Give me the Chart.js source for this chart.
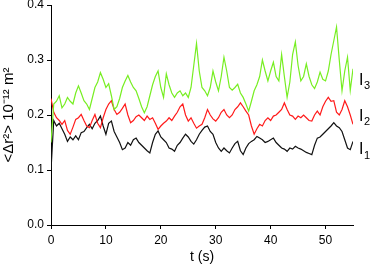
<!DOCTYPE html>
<html>
<head>
<meta charset="utf-8">
<script src="https://cdn.jsdelivr.net/npm/chart.js@4"></script>
<style>
  html, body { margin: 0; padding: 0; background: #fff; }
  #wrap { width: 371px; height: 270px; }
</style>
</head>
<body>
<div id="wrap"><canvas id="c"></canvas></div>
<script>
const times = [
  0, 0.5, 1, 1.5, 2, 2.5, 3, 3.5, 4, 4.5, 5, 5.5, 6, 6.5, 7, 7.5, 8, 8.5, 9, 9.5,
  10, 10.5, 11, 11.5, 12, 12.5, 13, 13.5, 14, 14.5, 15, 15.5, 16, 16.5, 17, 17.5, 18, 18.5, 19, 19.5,
  20, 20.5, 21, 21.5, 22, 22.5, 23, 23.5, 24, 24.5, 25, 25.5, 26, 26.5, 27, 27.5, 28, 28.5, 29, 29.5,
  30, 30.5, 31, 31.5, 32, 32.5, 33, 33.5, 34, 34.5, 35, 35.5, 36, 36.5, 37, 37.5, 38, 38.5, 39, 39.5,
  40, 40.5, 41, 41.5, 42, 42.5, 43, 43.5, 44, 44.5, 45, 45.5, 46, 46.5, 47, 47.5, 48, 48.5, 49, 49.5,
  50, 50.5, 51, 51.5, 52, 52.5, 53, 53.5, 54, 54.5, 55
];

// I1 (black)
const i1 = [
  0.10, 0.19, 0.18, 0.185, 0.175, 0.165, 0.152, 0.16, 0.155, 0.162, 0.155, 0.168, 0.17, 0.177, 0.183, 0.175, 0.185, 0.19, 0.198, 0.18,
  0.165, 0.185, 0.189, 0.17, 0.16, 0.15, 0.137, 0.14, 0.15, 0.145, 0.155, 0.158, 0.15, 0.145, 0.14, 0.135, 0.131, 0.15, 0.165, 0.171,
  0.16, 0.155, 0.15, 0.14, 0.138, 0.134, 0.145, 0.15, 0.158, 0.165, 0.16, 0.152, 0.147, 0.155, 0.165, 0.172, 0.178, 0.18, 0.17, 0.165,
  0.15, 0.14, 0.134, 0.14, 0.135, 0.131, 0.14, 0.148, 0.152, 0.135, 0.128, 0.14, 0.148, 0.152, 0.155, 0.161, 0.158, 0.155, 0.15, 0.152,
  0.155, 0.158, 0.15, 0.145, 0.14, 0.138, 0.134, 0.14, 0.138, 0.143, 0.14, 0.138, 0.135, 0.132, 0.13, 0.128, 0.145, 0.158, 0.16, 0.165,
  0.17, 0.175, 0.18, 0.186, 0.18, 0.177, 0.17, 0.155, 0.14, 0.137, 0.152
];

// I2 (red)
const i2 = [
  0.23, 0.205, 0.195, 0.19, 0.183, 0.19, 0.172, 0.165, 0.178, 0.192, 0.195, 0.201, 0.19, 0.18, 0.177, 0.19, 0.201, 0.185, 0.177, 0.195,
  0.21, 0.22, 0.226, 0.21, 0.201, 0.205, 0.212, 0.22, 0.2, 0.186, 0.19, 0.197, 0.2, 0.195, 0.19, 0.198, 0.192, 0.195, 0.185, 0.174,
  0.18, 0.185, 0.189, 0.195, 0.19, 0.198, 0.205, 0.215, 0.22, 0.2, 0.189, 0.195, 0.185, 0.176, 0.18, 0.183, 0.195, 0.21, 0.2, 0.193,
  0.189, 0.195, 0.205, 0.21, 0.2, 0.195, 0.2, 0.21, 0.215, 0.222, 0.215, 0.207, 0.2, 0.18, 0.165, 0.175, 0.183, 0.18, 0.19, 0.195,
  0.19, 0.198, 0.2, 0.205, 0.21, 0.222, 0.21, 0.2, 0.198, 0.192, 0.198, 0.195, 0.2, 0.195, 0.19, 0.189, 0.2, 0.207, 0.2, 0.215,
  0.225, 0.232, 0.225, 0.226, 0.205, 0.2, 0.21, 0.226, 0.215, 0.2, 0.183
];

// I3 (green)
const i3 = [
  0.15, 0.22, 0.225, 0.235, 0.213, 0.22, 0.232, 0.225, 0.22, 0.24, 0.253, 0.24, 0.226, 0.22, 0.21, 0.23, 0.25, 0.26, 0.277, 0.265,
  0.25, 0.257, 0.235, 0.21, 0.215, 0.23, 0.25, 0.262, 0.272, 0.26, 0.25, 0.244, 0.23, 0.215, 0.204, 0.215, 0.235, 0.255, 0.27, 0.28,
  0.25, 0.232, 0.275, 0.255, 0.24, 0.232, 0.24, 0.244, 0.235, 0.24, 0.232, 0.25, 0.29, 0.33, 0.28, 0.25, 0.244, 0.235, 0.25, 0.28,
  0.26, 0.244, 0.27, 0.305, 0.28, 0.25, 0.245, 0.25, 0.256, 0.24, 0.232, 0.22, 0.207, 0.225, 0.244, 0.255, 0.27, 0.3, 0.28, 0.262,
  0.28, 0.296, 0.27, 0.262, 0.31, 0.27, 0.232, 0.26, 0.31, 0.333, 0.29, 0.262, 0.27, 0.293, 0.27, 0.255, 0.248, 0.26, 0.278, 0.265,
  0.262, 0.28, 0.31, 0.335, 0.36, 0.3, 0.244, 0.28, 0.305, 0.245, 0.284
];

const seriesNames = ['1', '2', '3'];
const labelValues = [0.137, 0.198, 0.263];

const xTicks = [0, 10, 20, 30, 40, 50];
const yTicks = [0, 0.1, 0.2, 0.3, 0.4];

const toPts = arr => arr.map((v, i) => ({ x: times[i], y: v }));

const seriesLabels = {
  id: 'seriesLabels',
  afterDatasetsDraw(chart) {
    const { ctx, chartArea, scales } = chart;
    ctx.save();
    ctx.fillStyle = '#000';
    ctx.textBaseline = 'middle';
    seriesNames.forEach((n, i) => {
      const y = scales.y.getPixelForValue(labelValues[i]);
      const x = chartArea.right + 6;
      ctx.font = '16px "Liberation Sans", Arial, sans-serif';
      ctx.fillText('I', x, y);
      ctx.font = '11px "Liberation Sans", Arial, sans-serif';
      ctx.fillText(n, x + 5, y + 6);
    });
    ctx.restore();
  }
};

const tickFont = { family: '"Liberation Sans", Arial, sans-serif', size: 12 };

new Chart(document.getElementById('c'), {
  type: 'line',
  data: {
    datasets: [
      { label: 'I3', data: toPts(i3), borderColor: '#77ee22' },
      { label: 'I2', data: toPts(i2), borderColor: '#ff1a1a' },
      { label: 'I1', data: toPts(i1), borderColor: '#111111' }
    ]
  },
  options: {
    responsive: true,
    maintainAspectRatio: false,
    animation: false,
    elements: {
      line: { borderWidth: 1.2, tension: 0 },
      point: { radius: 0 }
    },
    layout: { padding: { top: 5, right: 18 } },
    plugins: { legend: { display: false }, tooltip: { enabled: false } },
    scales: {
      x: {
        type: 'linear',
        min: 0,
        max: 55,
        afterFit: s => { s.height = 45; s.paddingLeft = 0; s.paddingRight = 0; },
        afterBuildTicks: s => { s.ticks = xTicks.map(v => ({ value: v })); },
        grid: { display: true, drawOnChartArea: false, color: '#000', tickLength: 4 },
        border: { color: '#000', width: 1 },
        ticks: { color: '#000', font: tickFont, padding: 4, maxRotation: 0 },
        title: { display: true, text: 't (s)', color: '#000', font: { family: tickFont.family, size: 14 }, padding: { top: 4 } }
      },
      y: {
        min: 0,
        max: 0.4,
        afterFit: s => { s.width = 51; s.paddingTop = 0; s.paddingBottom = 0; },
        afterBuildTicks: s => { s.ticks = yTicks.map(v => ({ value: v })); },
        grid: { display: true, drawOnChartArea: false, color: '#000', tickLength: 4 },
        border: { color: '#000', width: 1 },
        ticks: { color: '#000', font: tickFont, padding: 3, callback: v => v.toFixed(1) },
        title: { display: true, text: '<\u0394r\u00b2> 10\u207b\u00b9\u00b2 m\u00b2', color: '#000', font: { family: tickFont.family, size: 15 }, padding: 0 }
      }
    }
  },
  plugins: [seriesLabels]
});
</script>
</body>
</html>
